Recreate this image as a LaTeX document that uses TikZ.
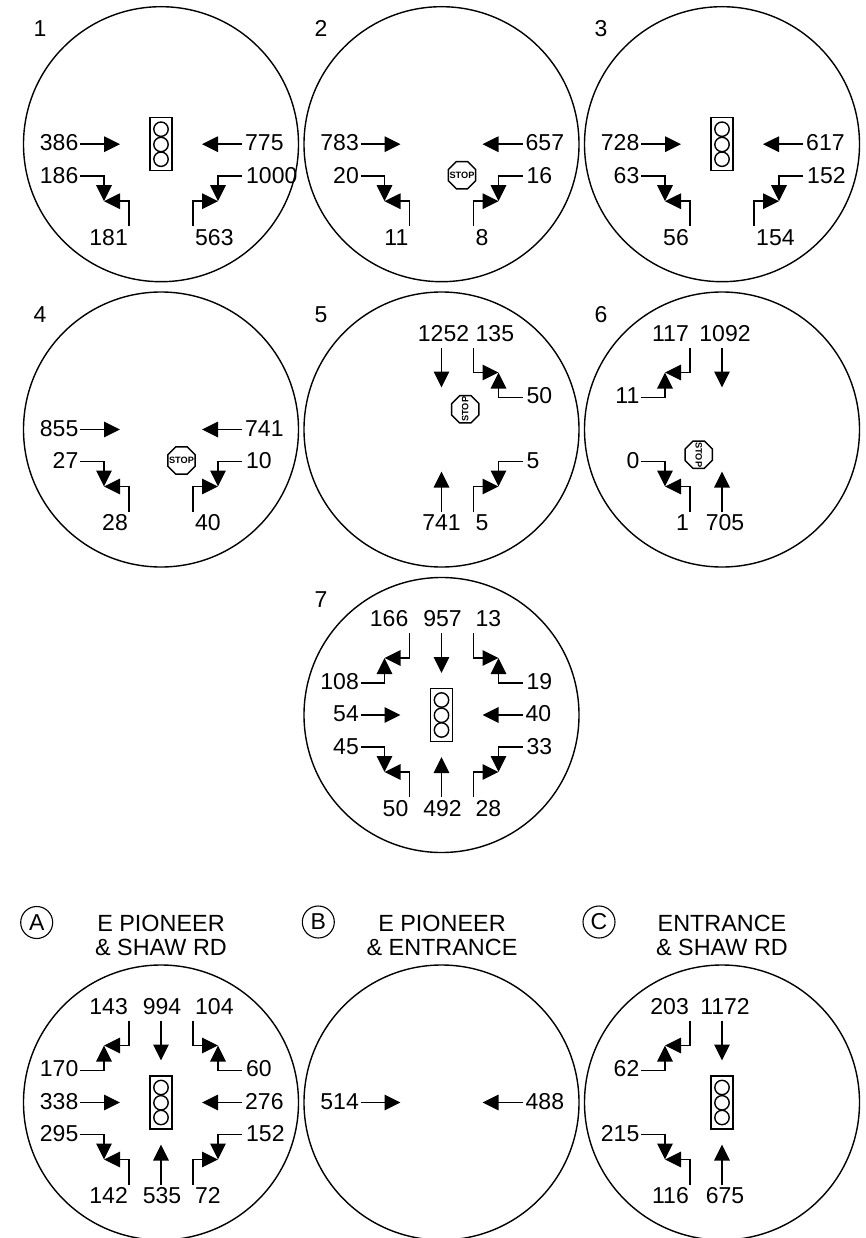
\documentclass[tikz,border=0pt]{standalone}
\usepackage{fontspec}
\setmainfont{Liberation Sans}
\usetikzlibrary{arrows.meta,shapes.geometric}
\tikzset{
  ringshape/.style={circle,draw,line width=1.4pt,minimum size=275pt,inner sep=0pt,fill=none},
  lab/.style={inner sep=0pt,text height=16.4pt,text depth=0pt,font=\fontsize{23}{25}\selectfont},
  conn/.style={line width=1.5pt,-{Triangle[length=16pt,width=15.5pt]},line join=miter},
  lampbox/.style={rectangle,draw,line width=1.4pt,minimum width=22pt,minimum height=53pt,inner sep=0pt},
  lamp/.style={circle,draw,line width=1.4pt,minimum size=14.4pt,inner sep=0pt},
  stopsign/.style={regular polygon,regular polygon sides=8,draw,line width=1.4pt,minimum size=29.5pt,inner sep=0pt},
  stoptext/.style={inner sep=0pt,font=\fontsize{9.2}{9}\selectfont\bfseries},
  badge/.style={circle,draw,line width=1.1pt,minimum size=32pt,inner sep=0pt,font=\fontsize{23}{25}\selectfont},
  titletext/.style={inner sep=0pt,align=center,font=\fontsize{23.4}{24}\selectfont},
}
\newcommand{\Light}{%
  \node[lampbox] (box) at (0,0) {};
  \node[lamp] (lampa) at (0,-15) {};
  \node[lamp] (lampb) at (0,0.3) {};
  \node[lamp] (lampc) at (0,15) {};}
\newcommand{\Stop}[3]{%
  \node[stopsign] (stop) at (#1,#2) {};
  \node[stoptext,rotate=#3] (stopword) at (stop.center) {STOP};}
\newcommand{\FromW}[1]{%
  \coordinate (ws) at (-81,0); \coordinate (wt) at (-41,0);
  \node[lab,anchor=east] (wl) at (-82.5,-1.5) {#1};
  \draw[conn] (ws) -- (wt);}
\newcommand{\FromE}[1]{%
  \coordinate (es) at (81,0); \coordinate (et) at (41,0);
  \node[lab,anchor=west] (el) at (84,-1.5) {#1};
  \draw[conn] (es) -- (et);}
\newcommand{\FromN}[2][1]{%
  \coordinate (ns) at (0,-82); \coordinate (nt) at (0,-42);
  \node[lab] (nl) at (#1,-96.5) {#2};
  \draw[conn] (ns) -- (nt);}
\newcommand{\FromS}[2][1]{%
  \coordinate (ss) at (0,82); \coordinate (st) at (0,42);
  \node[lab] (sl) at (#1,93) {#2};
  \draw[conn] (ss) -- (st);}
% turning movements: the corner tip is shared by the two arrows
\newcommand{\SWw}[1]{%
  \coordinate (swws) at (-81,32); \coordinate (swt) at (-57,57);
  \node[lab,anchor=east] (swwl) at (-82.5,31) {#1};
  \draw[conn] (swws) -| (swt);}
\newcommand{\SWs}[1]{%
  \coordinate (swss) at (-32,82); \coordinate (swt) at (-57,57);
  \node[lab,anchor=east] (swsl) at (-33,93) {#1};
  \draw[conn] (swss) |- (swt);}
\newcommand{\SEe}[1]{%
  \coordinate (sees) at (81,32); \coordinate (set) at (57,57);
  \node[lab,anchor=west] (seel) at (85,31) {#1};
  \draw[conn] (sees) -| (set);}
\newcommand{\SEs}[1]{%
  \coordinate (sess) at (32,82); \coordinate (set) at (57,57);
  \node[lab,anchor=west] (sesl) at (34,93) {#1};
  \draw[conn] (sess) |- (set);}
\newcommand{\NWw}[1]{%
  \coordinate (nwws) at (-81,-32); \coordinate (nwt) at (-57,-57);
  \node[lab,anchor=east] (nwwl) at (-82.5,-34) {#1};
  \draw[conn] (nwws) -| (nwt);}
\newcommand{\NWn}[1]{%
  \coordinate (nwns) at (-32,-82); \coordinate (nwt) at (-57,-57);
  \node[lab,anchor=east] (nwnl) at (-33,-96.5) {#1};
  \draw[conn] (nwns) |- (nwt);}
\newcommand{\NEe}[1]{%
  \coordinate (nees) at (81,-32); \coordinate (net) at (57,-57);
  \node[lab,anchor=west] (neel) at (85,-34) {#1};
  \draw[conn] (nees) -| (net);}
\newcommand{\NEn}[1]{%
  \coordinate (nens) at (32,-82); \coordinate (net) at (57,-57);
  \node[lab,anchor=west] (nenl) at (34,-96.5) {#1};
  \draw[conn] (nens) |- (net);}
\begin{document}
\begin{tikzpicture}[x=1pt,y=-1pt]
\useasboundingbox (0,0) rectangle (866,1238);
% 1
\begin{scope}[shift={(161,144.2)},name prefix=ca-]
  \node[ringshape] (ring) at (0,0) {};
  \Light
  \FromW{386}\FromE{775}
  \SWw{186}\SWs{181}\SEe{1000}\SEs{563}
\end{scope}
\node[lab] (num1) at (40,28) {1};
% 2
\begin{scope}[shift={(441.5,144.2)},name prefix=cb-]
  \node[ringshape] (ring) at (0,0) {};
  \Stop{20.5}{31}{0}
  \FromW{783}\FromE{657}
  \SWw{20}\SWs{11}\SEe{16}\SEs{8}
\end{scope}
\node[lab] (num2) at (321,28) {2};
% 3
\begin{scope}[shift={(722,144.2)},name prefix=cc-]
  \node[ringshape] (ring) at (0,0) {};
  \Light
  \FromW{728}\FromE{617}
  \SWw{63}\SWs{56}\SEe{152}\SEs{154}
\end{scope}
\node[lab] (num3) at (601,28) {3};
% 4
\begin{scope}[shift={(161,429.5)},name prefix=cd-]
  \node[ringshape] (ring) at (0,0) {};
  \Stop{20.5}{31}{0}
  \FromW{855}\FromE{741}
  \SWw{27}\SWs{28}\SEe{10}\SEs{40}
\end{scope}
\node[lab] (num4) at (40,314) {4};
% 5
\begin{scope}[shift={(441.5,429.5)},name prefix=ce-]
  \node[ringshape] (ring) at (0,0) {};
  \Stop{23.8}{-20.2}{90}
  \FromN[2]{1252}\FromS[0]{741}
  \NEn{135}\NEe{50}\SEe{5}\SEs{5}
\end{scope}
\node[lab] (num5) at (321,314) {5};
% 6
\begin{scope}[shift={(722,429.5)},name prefix=cf-]
  \node[ringshape] (ring) at (0,0) {};
  \Stop{-23.3}{25.2}{-90}
  \FromN[3]{1092}\FromS[3]{705}
  \NWn{117}\NWw{11}\SWw{0}\SWs{1}
\end{scope}
\node[lab] (num6) at (601,314) {6};
% 7
\begin{scope}[shift={(441.5,715)},name prefix=cg-]
  \node[ringshape] (ring) at (0,0) {};
  \Light
  \FromW{54}\FromE{40}\FromN{957}\FromS{492}
  \NWn{166}\NWw{108}\NEn{13}\NEe{19}
  \SWw{45}\SWs{50}\SEe{33}\SEs{28}
\end{scope}
\node[lab] (num7) at (321,599.5) {7};
% A
\begin{scope}[shift={(161,1102.5)},name prefix=ch-]
  \node[ringshape] (ring) at (0,0) {};
  \Light
  \FromW{338}\FromE{276}\FromN{994}\FromS{535}
  \NWn{143}\NWw{170}\NEn{104}\NEe{60}
  \SWw{295}\SWs{142}\SEe{152}\SEs{72}
\end{scope}
\node[badge] (badgeA) at (36.7,922.5) {A};
\node[titletext] (titleA) at (161,935) {E PIONEER\\\& SHAW RD};
% B
\begin{scope}[shift={(441.5,1102.5)},name prefix=ci-]
  \node[ringshape] (ring) at (0,0) {};
  \FromW{514}\FromE{488}
\end{scope}
\node[badge] (badgeB) at (318.3,922) {B};
\node[titletext] (titleB) at (442,935) {E PIONEER\\\& ENTRANCE};
% C
\begin{scope}[shift={(722,1102.5)},name prefix=cj-]
  \node[ringshape] (ring) at (0,0) {};
  \Light
  \FromN[3]{1172}\FromS[3]{675}
  \NWn{203}\NWw{62}\SWw{215}\SWs{116}
\end{scope}
\node[badge] (badgeC) at (599,922) {C};
\node[titletext] (titleC) at (722,935) {ENTRANCE\\\& SHAW RD};
\end{tikzpicture}
\end{document}
